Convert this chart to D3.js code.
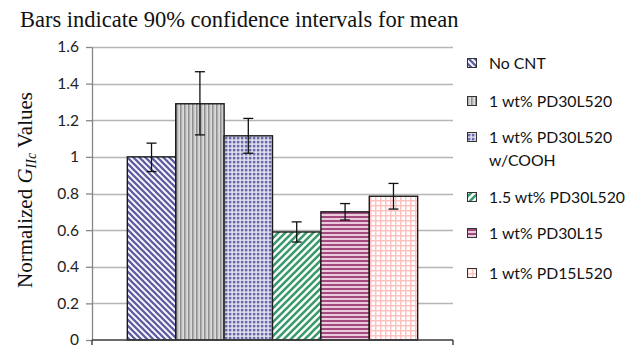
<!DOCTYPE html>
<html>
<head>
<meta charset="utf-8">
<script src="https://cdn.jsdelivr.net/npm/d3@7"></script>
<style>
  body { margin: 0; background: #fff; }
  svg { display: block; }
</style>
</head>
<body>
<div id="chart"></div>
<script>
// series names (one per bar), means and 90% CI bounds
var seriesNames = ["No CNT", "1 wt% PD30L520", "1 wt% PD30L520 w/COOH",
                   "1.5 wt% PD30L520", "1 wt% PD30L15", "1 wt% PD15L520"];
var means = [1.00, 1.29, 1.115, 0.59, 0.70, 0.785];
var ciLow = [0.92, 1.12, 1.02, 0.535, 0.655, 0.715];
var ciHigh = [1.075, 1.465, 1.21, 0.645, 0.745, 0.855];
var yTicks = [0, 0.2, 0.4, 0.6, 0.8, 1, 1.2, 1.4, 1.6];
var legendLines = [["No CNT"], ["1 wt% PD30L520"], ["1 wt% PD30L520", "w/COOH"],
                   ["1.5 wt% PD30L520"], ["1 wt% PD30L15"], ["1 wt% PD15L520"]];

var width = 630, height = 347;
var margin = { top: 47, right: 177, bottom: 7, left: 92 };

var data = seriesNames.map((s, i) => ({ name: s, mean: means[i], lo: ciLow[i], hi: ciHigh[i], idx: i }));

var svg = d3.select("#chart").append("svg")
    .attr("width", width)
    .attr("height", height);

// fill patterns, roughly like the Excel ones
var defs = svg.append("defs");

function addPattern(id, size, draw) {
    var p = defs.append("pattern")
        .attr("id", id)
        .attr("patternUnits", "userSpaceOnUse")
        .attr("width", size)
        .attr("height", size);
    draw(p);
}

// dark downward diagonal, blue
addPattern("p0", 6, p => {
    p.append("rect").attr("width", 6).attr("height", 6).attr("fill", "#fff");
    p.append("path").attr("d", "M-1,-1L7,7M-4,2L4,10M2,-4L10,4")
        .attr("stroke", "#5f5fa3").attr("stroke-width", 2.3);
});
// vertical stripes, grey
addPattern("p1", 4, p => {
    p.append("rect").attr("width", 4).attr("height", 4).attr("fill", "#e4e4e4");
    p.append("rect").attr("x", 0).attr("width", 1.6).attr("height", 4).attr("fill", "#8e8e8e");
    p.append("rect").attr("x", 2.4).attr("width", 0.8).attr("height", 4).attr("fill", "#bdbdbd");
});
// small grid, blue
addPattern("p2", 4, p => {
    p.append("rect").attr("width", 4).attr("height", 4).attr("fill", "#f4f4fa");
    p.append("rect").attr("x", 0.7).attr("y", 0.7).attr("width", 2.8).attr("height", 2.8).attr("fill", "#6c6cad");
});
// wide upward diagonal, green
addPattern("p3", 7, p => {
    p.append("rect").attr("width", 7).attr("height", 7).attr("fill", "#fff");
    p.append("path").attr("d", "M-1,8L8,-1M-4,4L4,-4M3,11L11,3")
        .attr("stroke", "#3a9a6c").attr("stroke-width", 2.6);
});
// horizontal stripes, plum
addPattern("p4", 4, p => {
    p.append("rect").attr("width", 4).attr("height", 4).attr("fill", "#e9cbdb");
    p.append("rect").attr("y", 0).attr("width", 4).attr("height", 2).attr("fill", "#a24a7f");
});
// light grid, pink
addPattern("p5", 5, p => {
    p.append("rect").attr("width", 5).attr("height", 5).attr("fill", "#fff");
    p.append("rect").attr("x", 0).attr("width", 1.5).attr("height", 5).attr("fill", "#ffc0c0");
    p.append("rect").attr("y", 0).attr("width", 5).attr("height", 1.5).attr("fill", "#ffc0c0");
});

var x = d3.scaleBand()
    .domain(seriesNames)
    .range([margin.left, width - margin.right])
    .paddingInner(0)
    .paddingOuter(0.73);

var y = d3.scaleLinear()
    .domain([0, 1.6])
    .range([height - margin.bottom, margin.top]);

// gridlines
svg.append("g")
    .selectAll("line")
    .data(yTicks.slice(1))
    .enter()
    .append("line")
    .attr("x1", margin.left)
    .attr("x2", width - margin.right)
    .attr("y1", d => Math.round(y(d)) + 0.5)
    .attr("y2", d => Math.round(y(d)) + 0.5)
    .attr("stroke", "#b5b5b5")
    .attr("stroke-width", 1.3);

// y axis
var yAxis = svg.append("g")
    .attr("transform", `translate(${margin.left},0)`)
    .call(d3.axisLeft(y).tickValues(yTicks).tickFormat(d3.format("~g")).tickSize(6).tickSizeOuter(0).tickPadding(7));
yAxis.select(".domain").attr("stroke", "#868686").attr("stroke-width", 1.3);
yAxis.selectAll(".tick line").attr("stroke", "#868686").attr("stroke-width", 1.3);
yAxis.selectAll("text")
    .style("font-family", "Lato, 'Open Sans', sans-serif")
    .style("font-size", "15.5px")
    .attr("fill", "#222");

// bars
svg.append("g")
    .selectAll("rect")
    .data(data)
    .enter()
    .append("rect")
    .attr("x", d => x(d.name))
    .attr("y", d => y(d.mean))
    .attr("width", x.bandwidth())
    .attr("height", d => y(0) - y(d.mean))
    .attr("fill", d => `url(#p${d.idx})`)
    .attr("stroke", "#1a1a1a")
    .attr("stroke-width", 1.4);

// x axis (single category)
svg.append("line")
    .attr("x1", margin.left).attr("x2", width - margin.right)
    .attr("y1", y(0)).attr("y2", y(0))
    .attr("stroke", "#3a3a3a").attr("stroke-width", 1.4);
svg.append("g")
    .selectAll("line")
    .data([margin.left, width - margin.right])
    .enter()
    .append("line")
    .attr("x1", d => d).attr("x2", d => d)
    .attr("y1", y(0)).attr("y2", y(0) + 5)
    .attr("stroke", "#3a3a3a").attr("stroke-width", 1.4);

// error bars
var err = svg.append("g")
    .selectAll("g")
    .data(data)
    .enter()
    .append("g")
    .attr("stroke", "#111")
    .attr("stroke-width", 1.3);
err.append("line")
    .attr("x1", d => x(d.name) + x.bandwidth() / 2)
    .attr("x2", d => x(d.name) + x.bandwidth() / 2)
    .attr("y1", d => y(d.lo))
    .attr("y2", d => y(d.hi));
err.selectAll(".cap")
    .data(d => [d.lo, d.hi].map(v => ({ v: v, cx: x(d.name) + x.bandwidth() / 2 })))
    .enter()
    .append("line")
    .attr("class", "cap")
    .attr("x1", d => d.cx - 5)
    .attr("x2", d => d.cx + 5)
    .attr("y1", d => y(d.v))
    .attr("y2", d => y(d.v));

// title
svg.append("text")
    .attr("x", 20)
    .attr("y", 27)
    .style("font-family", "'Liberation Serif', 'Times New Roman', serif")
    .style("font-size", "22.5px")
    .attr("fill", "#111")
    .text("Bars indicate 90% confidence intervals for mean");

// y axis title
var yt = svg.append("text")
    .attr("transform", "translate(32,190) rotate(-90)")
    .attr("text-anchor", "middle")
    .style("font-family", "'Liberation Serif', 'Times New Roman', serif")
    .style("font-size", "21px")
    .attr("fill", "#111");
yt.append("tspan").text("Normalized ");
yt.append("tspan").style("font-style", "italic").text("G");
yt.append("tspan").style("font-style", "italic").style("font-size", "14px").attr("dy", 4).text("IIc");
yt.append("tspan").attr("dy", -4).text("  Values");

// legend
var legendY = [63, 101, 137, 197, 233, 273];
var legend = svg.append("g")
    .selectAll("g")
    .data(data)
    .enter()
    .append("g")
    .attr("transform", (d, i) => `translate(467,${legendY[i]})`);
legend.append("rect")
    .attr("x", 0.5)
    .attr("y", -4.5)
    .attr("width", 9)
    .attr("height", 9)
    .attr("fill", d => `url(#p${d.idx})`)
    .attr("stroke", "#333")
    .attr("stroke-width", 1);
legend.append("text")
    .attr("x", 22)
    .attr("y", 5.5)
    .style("font-family", "Lato, 'Open Sans', sans-serif")
    .style("font-size", "15.8px")
    .attr("fill", "#111")
    .selectAll("tspan")
    .data((d, i) => legendLines[i])
    .enter()
    .append("tspan")
    .attr("x", 22)
    .attr("dy", (d, i) => i === 0 ? 0 : 23)
    .text(d => d);
</script>
</body>
</html>
